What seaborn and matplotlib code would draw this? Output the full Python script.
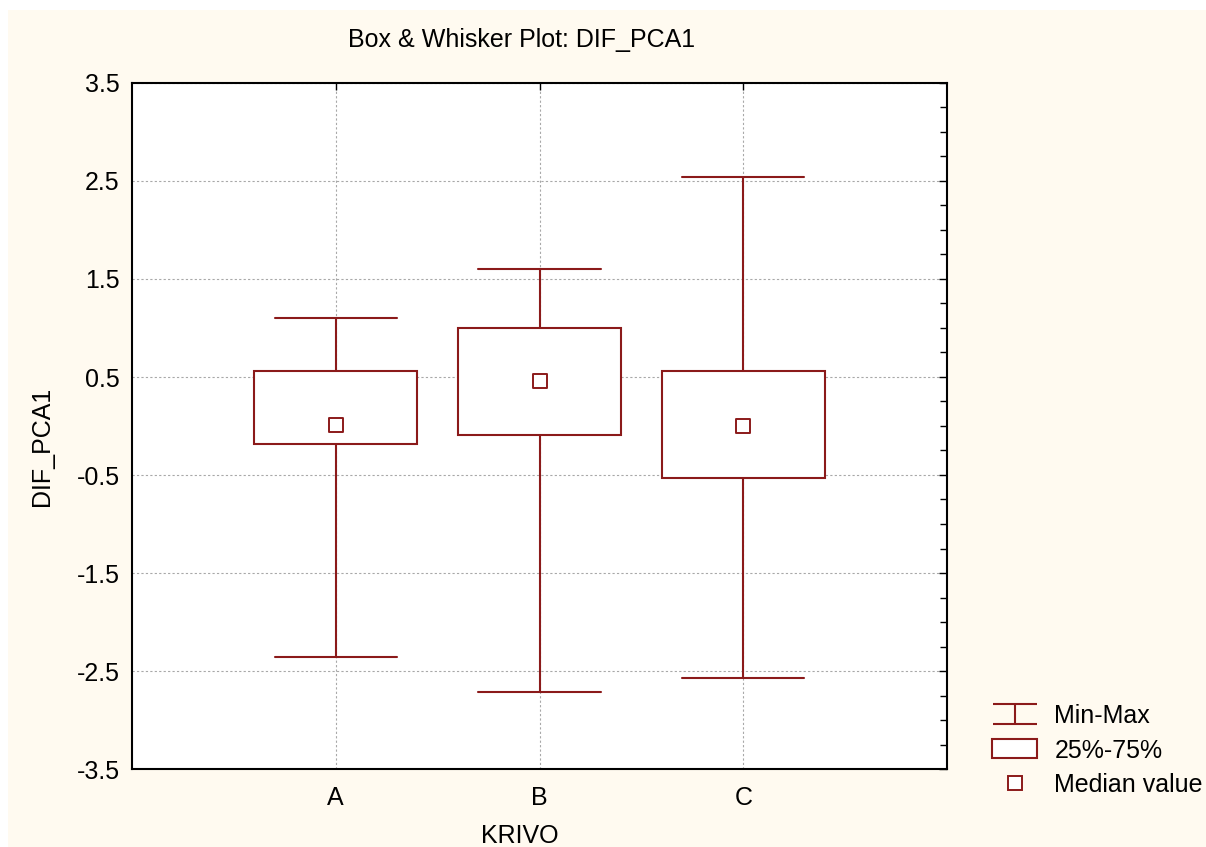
import numpy as np
import pandas as pd
import matplotlib
matplotlib.use("Agg")
import matplotlib.pyplot as plt
import seaborn as sns
from matplotlib.lines import Line2D
from matplotlib.patches import Patch, Rectangle
from matplotlib.path import Path
from matplotlib.ticker import MultipleLocator

# summary values
groups = ["A", "B", "C"]
mins = [-2.36, -2.71, -2.57]
q1 = [-0.18, -0.09, -0.53]
medians = [0.01, 0.46, 0.00]
q3 = [0.56, 1.00, 0.56]
maxs = [1.10, 1.60, 2.54]

red = "#8b1a1a"
cream = "#fffaf0"

sns.set_style("white")
plt.rcParams["font.family"] = ["Liberation Sans", "DejaVu Sans"]
plt.rcParams["axes.unicode_minus"] = False
plt.rcParams["text.color"] = "black"
plt.rcParams["xtick.color"] = "black"
plt.rcParams["ytick.color"] = "black"
plt.rcParams["axes.labelcolor"] = "black"

# five values per group -> whis=(0,100) gives min/q1/median/q3/max exactly
rows = []
for g, a, b, c, d, e in zip(groups, mins, q1, medians, q3, maxs):
    for v in (a, b, c, d, e):
        rows.append({"KRIVO": g, "DIF_PCA1": v})
df = pd.DataFrame(rows)

fig = plt.figure(figsize=(12.06, 8.47), dpi=100, facecolor="white")
fig.patches.append(Rectangle((8 / 1206, 0), 1, 1 - 10 / 847, transform=fig.transFigure,
                             facecolor=cream, edgecolor="none", zorder=-10))
ax = fig.add_axes([132 / 1206, 1 - 769 / 847, (947 - 132) / 1206, (769 - 83) / 847])
ax.set_facecolor("white")

sns.boxplot(data=df, x="KRIVO", y="DIF_PCA1", ax=ax, whis=(0, 100), width=0.8,
            color="white", saturation=1, linecolor=red, linewidth=1.5,
            fliersize=0, medianprops={"visible": False})

# widen caps a bit
for ln in ax.lines:
    x = np.asarray(ln.get_xdata(), dtype=float)
    y = np.asarray(ln.get_ydata(), dtype=float)
    if len(x) == 2 and y[0] == y[1] and (np.isclose(y[0], mins).any() or np.isclose(y[0], maxs).any()):
        c = x.mean()
        ln.set_xdata([c - 0.3, c + 0.3])

sns.scatterplot(x=groups, y=medians, ax=ax, marker="s", s=100, color="white",
                edgecolor=red, linewidth=1.4, zorder=5)

ax.set_xlim(-1, 3)
ax.set_ylim(-3.5, 3.5)
ax.set_yticks(np.arange(-3.5, 3.6, 1.0))
ax.set_yticklabels([f"{v:.1f}" for v in np.arange(-3.5, 3.6, 1.0)])
ax.yaxis.set_minor_locator(MultipleLocator(0.25))
ax.tick_params(axis="both", which="both", direction="in", top=True, right=True,
               labelsize=18, color="black")
ax.tick_params(axis="y", which="major", length=6, width=1, pad=9)
ax.tick_params(axis="y", which="minor", length=5, width=1)
ax.tick_params(axis="x", which="major", length=5, width=1, pad=12)
ax.set_axisbelow(True)
ax.grid(True, which="major", linestyle=(0, (2, 2)), color="#a8a8a8", linewidth=0.8)
for s in ax.spines.values():
    s.set_color("black")
    s.set_linewidth(1.5)

ax.set_xlabel("KRIVO", fontsize=18)
ax.xaxis.set_label_coords((520 - 132) / 815, (769 - 824) / 686)
ax.set_ylabel("DIF_PCA1", fontsize=18)
ax.yaxis.set_label_coords((54 - 132) / 815, (769 - 446) / 686)
ax.text((522 - 132) / 815, (769 - 47) / 686, "Box & Whisker Plot: DIF_PCA1",
        transform=ax.transAxes, ha="center", va="baseline", fontsize=18)

# legend
ibeam = Path([(-1, 0.45), (1, 0.45), (0, 0.45), (0, -0.45), (-1, -0.45), (1, -0.45)],
             [Path.MOVETO, Path.LINETO, Path.MOVETO, Path.LINETO, Path.MOVETO, Path.LINETO])
handles = [
    Line2D([], [], linestyle="none", marker=ibeam, markersize=32, markeredgecolor=red,
           markerfacecolor="none", markeredgewidth=1.5),
    Patch(facecolor="white", edgecolor=red, linewidth=1.5),
    Line2D([], [], linestyle="none", marker="s", markersize=9.5, markerfacecolor="white",
           markeredgecolor=red, markeredgewidth=1.4),
]
fig.legend(handles, ["Min-Max", "25%-75%", "Median value"], loc="lower left",
           bbox_to_anchor=(992 / 1206, 1 - 797 / 847), frameon=False, fontsize=18,
           handlelength=1.8, handleheight=0.8, handletextpad=0.7, labelspacing=0.42,
           borderpad=0, borderaxespad=0)

fig.savefig("out.png", dpi=100, facecolor="white")
